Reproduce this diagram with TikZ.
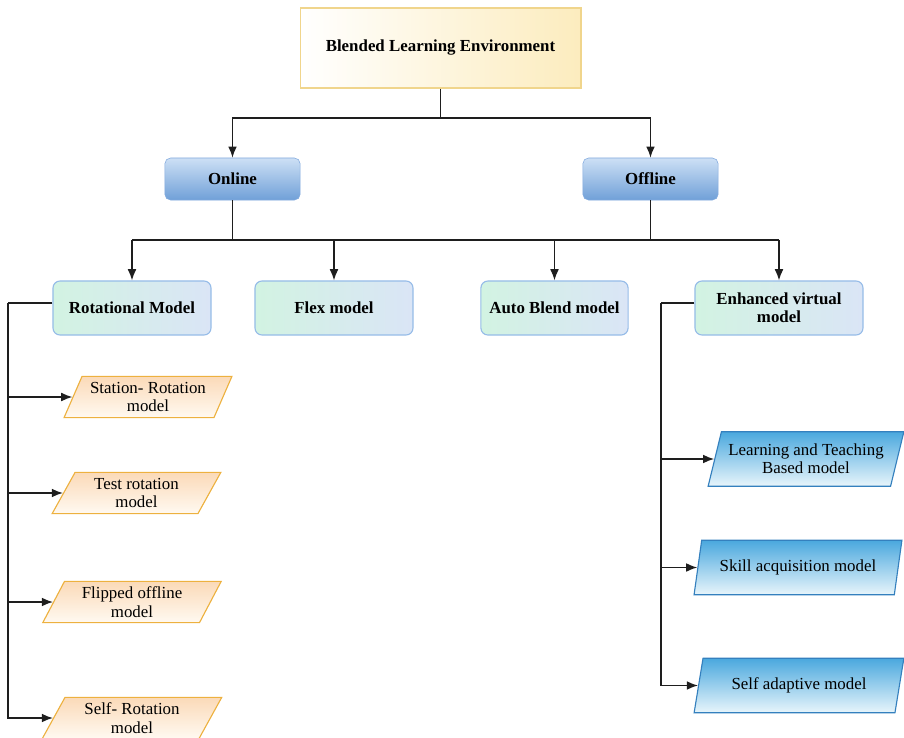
\documentclass[tikz,border=0pt]{standalone}
\usepackage{fontspec}
\setmainfont{Liberation Serif}
\usetikzlibrary{arrows.meta,positioning,shapes.geometric}
\definecolor{bleborder}{RGB}{240,213,140}
\definecolor{bleyellow}{RGB}{252,236,190}
\definecolor{modetop}{RGB}{205,224,245}
\definecolor{modebot}{RGB}{112,160,216}
\definecolor{modeborder}{RGB}{130,170,222}
\definecolor{mint}{RGB}{210,243,226}
\definecolor{paleblue}{RGB}{218,229,246}
\definecolor{kindborder}{RGB}{150,188,232}
\definecolor{peach}{RGB}{251,218,184}
\definecolor{cream}{RGB}{255,249,241}
\definecolor{amber}{RGB}{237,177,63}
\definecolor{skyblue}{RGB}{74,168,222}
\definecolor{icewhite}{RGB}{232,245,251}
\definecolor{deepsky}{RGB}{52,128,190}
\definecolor{wirecol}{RGB}{30,30,30}

\begin{document}
\begin{tikzpicture}[x=0.025cm,y=-0.025cm]
  \tikzstyle{root}=[draw=bleborder,thick,left color=white,right color=bleyellow,
    minimum width=7.02cm,minimum height=2cm,font=\fontsize{12}{13}\selectfont\bfseries]
  \tikzstyle{mode}=[draw=modeborder,rounded corners=4pt,top color=modetop,bottom color=modebot,
    minimum width=3.38cm,minimum height=1.05cm,font=\fontsize{12}{13}\selectfont\bfseries]
  \tikzstyle{kind}=[draw=kindborder,thick,rounded corners=5pt,left color=mint,right color=paleblue,
    minimum height=1.35cm,align=center,font=\fontsize{12}{13}\selectfont\bfseries]
  \tikzstyle{rotbox}=[trapezium,trapezium stretches=true,trapezium left angle=62,trapezium right angle=118,
    draw=amber,thick,top color=peach,bottom color=cream,inner sep=0pt,
    minimum height=1.03cm,align=center,font=\fontsize{12}{13}\selectfont]
  \tikzstyle{virtbox}=[trapezium,trapezium stretches=true,trapezium left angle=68,trapezium right angle=112,
    draw=deepsky,thick,top color=skyblue,bottom color=icewhite,inner sep=0pt,
    minimum height=1.36cm,align=center,font=\fontsize{12}{13}\selectfont]
  \tikzstyle{flow}=[-{Latex[length=2.8mm,width=2.2mm]},wirecol,line width=1pt]
  \tikzstyle{link}=[wirecol,line width=1pt]

  \useasboundingbox (0,0) rectangle (904,738);

  % -- Top: environment and its two modes --
  \node[root] (ble) at (440.5,48) {Blended Learning Environment};
  \node[mode] (online)  at (232.5,179) {Online};
  \node[mode] (offline) at (650.5,179) {Offline};

  % -- Blended learning models --
  \node[kind,minimum width=3.95cm] (rot)  at (132,308)   {Rotational Model};
  \node[kind,minimum width=3.95cm] (flex) at (334,308)   {Flex model};
  \node[kind,minimum width=3.68cm] (auto) at (554.5,308) {Auto Blend model};
  \node[kind,minimum width=4.2cm]  (enh)  at (779,308)   {Enhanced virtual\\ model};

  % -- Rotational sub-models (left column) --
  \node[rotbox,minimum width=4.2cm]  (station) at (148,397)   {Station- Rotation\\ model};
  \node[rotbox,minimum width=4.22cm] (test)    at (136.5,493) {Test rotation\\ model};
  \node[rotbox,minimum width=4.5cm]  (flipped) at (132,602)   {Flipped offline\\ model};
  \node[rotbox,minimum width=4.5cm]  (selfrot) at (132,718)   {Self- Rotation\\ model};

  % -- Enhanced virtual sub-models (right column) --
  \node[virtbox,minimum width=4.9cm]  (learn)  at (806,459)   {Learning and Teaching\\ Based model};
  \node[virtbox,minimum width=5.2cm]  (skill)  at (798,567.5) {Skill acquisition model};
  \node[virtbox,minimum width=5.25cm] (selfad) at (799,685.5) {Self adaptive model};

  % -- Flows --
  \coordinate (split) at (440.5,118);
  \coordinate (bus)   at (440.5,240);
  \draw[link] (ble.south) -- (split);
  \draw[flow] (split) -| (online.north);
  \draw[flow] (split) -| (offline.north);
  \draw[link] (online.south) -- (online.south |- bus);
  \draw[link] (offline.south) -- (offline.south |- bus);
  \draw[link] (rot.north |- bus) -- (enh.north |- bus);
  \foreach \n in {rot,flex,auto,enh}
    \draw[flow] (\n.north |- bus) -- (\n.north);

  \coordinate (lturn) at (8,303);
  \draw[link] (rot.west |- lturn) -- (lturn);
  \foreach \n in {station,test,flipped}
    \draw[flow] (lturn |- \n.west) -- (\n.west);
  \draw[flow] (lturn) |- (selfrot.west);

  \coordinate (rturn) at (661,303);
  \draw[link] (enh.west |- rturn) -- (rturn);
  \foreach \n in {learn,skill}
    \draw[flow] (rturn |- \n.west) -- (\n.west);
  \draw[flow] (rturn) |- (selfad.west);
\end{tikzpicture}
\end{document}
